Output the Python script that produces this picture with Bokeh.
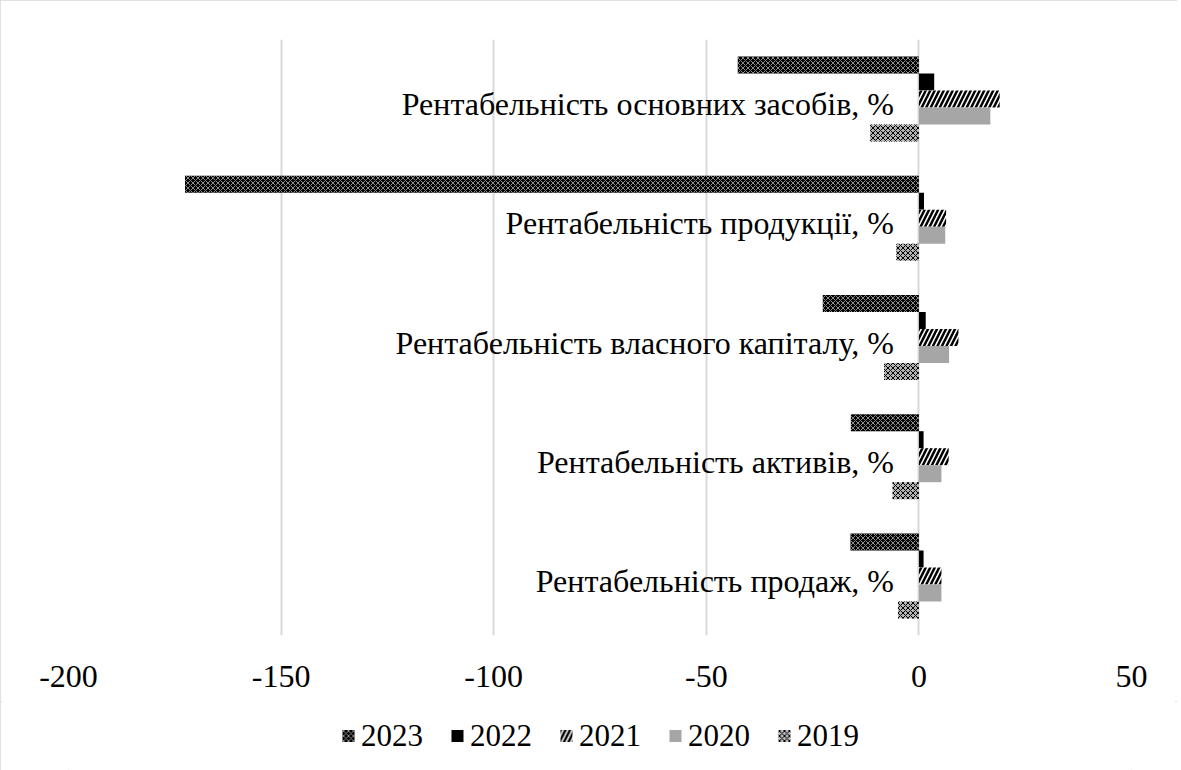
from bokeh.plotting import figure
from bokeh.layouts import column
from bokeh.models import ColumnDataSource, Range1d, FixedTicker, Legend, LegendItem
from bokeh.transform import dodge
from bokeh.core.properties import value
from bokeh.embed import file_html
from bokeh.resources import INLINE

categories = [
    "Рентабельність продаж, %",
    "Рентабельність активів, %",
    "Рентабельність власного капіталу, %",
    "Рентабельність продукції, %",
    "Рентабельність основних засобів, %",
]
years = ["2023", "2022", "2021", "2020", "2019"]
v2023 = [-16.1, -16.0, -22.6, -172.6, -42.6]
v2022 = [1.1, 1.1, 1.6, 1.2, 3.6]
v2021 = [5.3, 7.0, 9.3, 6.4, 19.0]
v2020 = [5.3, 5.3, 7.1, 6.2, 16.8]
v2019 = [-4.9, -6.2, -8.2, -5.3, -11.5]
x_ticks = [-200, -150, -100, -50, 0, 50]

FONT = "Liberation Serif"

src = ColumnDataSource(dict(cat=categories, y2023=v2023, y2022=v2022, y2021=v2021,
                            y2020=v2020, y2019=v2019, zero=[0] * len(categories)))

p = figure(frame_width=1063, frame_height=596, y_range=categories, x_range=Range1d(-200, 50),
           output_backend="svg", toolbar_location=None,
           min_border_left=68, min_border_right=46, min_border_top=39, min_border_bottom=66)
p.outline_line_color = None
p.background_fill_color = "white"
p.border_fill_color = "white"

bh = 0.1426
styles = {
    "2023": dict(fill_color="black", hatch_pattern="diagonal_cross", hatch_color="#8a8a8a",
                 hatch_scale=5, hatch_weight=1),
    "2022": dict(fill_color="black"),
    "2021": dict(fill_color="white", hatch_pattern="right_diagonal_line", hatch_color="black",
                 hatch_scale=9, hatch_weight=2.5),
    "2020": dict(fill_color="#a6a6a6"),
    "2019": dict(fill_color="#b4b4b4", hatch_pattern="diagonal_cross", hatch_color="black",
                 hatch_scale=5, hatch_weight=1),
}
offsets = {"2023": 2 * bh, "2022": bh, "2021": 0, "2020": -bh, "2019": -2 * bh}

for yr in years:
    p.hbar(y=dodge("cat", offsets[yr], range=p.y_range), left=0, right="y" + yr,
           height=bh, source=src, line_color=None, **styles[yr])

p.text(x="zero", y="cat", text="cat", source=src, x_offset=-25, y_offset=5,
       text_align="right", text_baseline="middle", text_font=value(FONT),
       text_font_size="32px", text_color="black")

p.ygrid.visible = False
p.xgrid.grid_line_color = "#d9d9d9"
p.xgrid.grid_line_width = 2
p.yaxis.visible = False

ax = p.xaxis[0]
ax.ticker = FixedTicker(ticks=x_ticks)
ax.major_label_overrides = {t: str(t) for t in x_ticks}
ax.axis_line_color = None
ax.major_tick_line_color = None
ax.minor_tick_line_color = None
ax.major_label_standoff = 24
ax.major_label_text_font = FONT
ax.major_label_text_font_size = "32px"
ax.major_label_text_color = "black"

# legend strip below the chart (legend glyphs come from hidden copies of the series)
lg = figure(width=p.min_border_left + 1063 + p.min_border_right, height=69,
            x_range=Range1d(-200, 50), y_range=categories,
            output_backend="svg", toolbar_location=None,
            x_axis_location=None, y_axis_location=None,
            min_border=0, outline_line_color=None)
lg.grid.visible = False
lrs = {}
for yr in years:
    r = lg.hbar(y="cat", left=0, right="y" + yr, height=bh, source=src,
                line_color=None, **styles[yr])
    r.visible = False
    lrs[yr] = r
legend = Legend(items=[LegendItem(label=yr, renderers=[lrs[yr]]) for yr in years],
                orientation="horizontal", location="center", click_policy="none",
                label_text_font=FONT, label_text_font_size="31px", label_text_color="black",
                glyph_width=15, glyph_height=15, label_standoff=6, spacing=26,
                border_line_color=None, background_fill_alpha=0, padding=0, margin=0)
lg.add_layout(legend, "center")

layout = column(p, lg, spacing=0,
                styles={"outline": "2px solid #d9d9d9", "outline-offset": "-2px"})

open("out.html", "w").write(file_html(layout, INLINE))
